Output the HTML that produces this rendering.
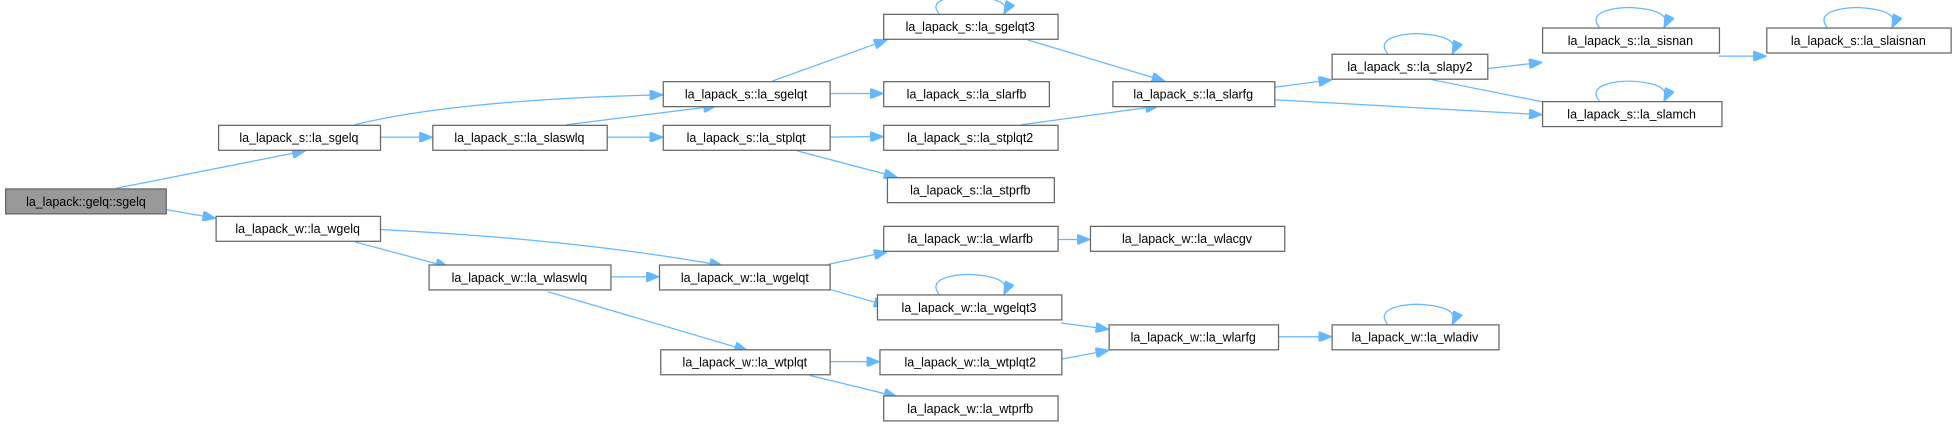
<!DOCTYPE html>
<html><head><meta charset="utf-8"><style>
html,body{margin:0;padding:0;background:#fff;}
svg{display:block;}
text{font-family:"Liberation Sans","DejaVu Sans",sans-serif;font-size:10px;fill:#000;}
.n{fill:#fff;stroke:#666;stroke-width:1;}
.r{fill:#999;stroke:#666;stroke-width:1;}
.e{fill:none;stroke:#63b8ff;stroke-width:1;}
</style></head><body>
<svg width="1953" height="429" viewBox="0 0 1568 344" preserveAspectRatio="none" xmlns="http://www.w3.org/2000/svg">
<defs><marker id="a" viewBox="0 0 10 8" refX="10" refY="4" markerWidth="11" markerHeight="8" markerUnits="userSpaceOnUse" orient="auto"><path d="M0,0 L10,4 L0,8 z" fill="#63b8ff" stroke="#63b8ff"/></marker></defs>
<g class="e" marker-end="url(#a)">
<path d="M93,151 L245,121"/>
<path d="M133,168 L173,175"/>
<path d="M305,110 L347,110"/>
<path d="M285,100 C350,84 450,78 532,76"/>
<path d="M455,100 L575,85"/>
<path d="M487,110 L532,110"/>
<path d="M620,65 L712,32"/>
<path d="M666,75 L709,75"/>
<path d="M825,32 L935,65"/>
<path d="M666,110 L709,109.5"/>
<path d="M640,121 L720,142"/>
<path d="M820,100 L930,85"/>
<path d="M1023,70 L1069,64"/>
<path d="M1023,80 L1238,92"/>
<path d="M1194,55 L1238,50"/>
<path d="M1150,64 L1275,89"/>
<path d="M1380,45 L1418,45"/>
<path d="M305,184 C380,188 480,195 580,213"/>
<path d="M285,194 L360,214"/>
<path d="M490,222 L529,222"/>
<path d="M440,234 L600,281"/>
<path d="M665,212 L712,202"/>
<path d="M849,192 L875,192"/>
<path d="M666,232 L712,245"/>
<path d="M852,259 L890,264"/>
<path d="M666,290 L706,290"/>
<path d="M650,301 L720,318"/>
<path d="M852,288 L890,281"/>
<path d="M1026,270 L1069,270"/>
<path d="M754,11 C743,-2 770,-3 779,-3 C795,-2 812,1 806,11"/>
<path d="M1114,43 C1103,29 1130,27 1139,27 C1155,28 1172,31 1166,43"/>
<path d="M1284,22 C1273,8 1300,6 1309,6 C1325,7 1342,10 1336,22"/>
<path d="M1467,22 C1456,8 1483,6 1492,6 C1508,7 1525,10 1519,22"/>
<path d="M1284,81 C1273,67 1300,65 1309,65 C1325,66 1342,69 1336,81"/>
<path d="M754,236 C743,222 770,220 779,220 C795,221 812,224 806,236"/>
<path d="M1114,260 C1103,246 1130,244 1139,244 C1155,245 1172,248 1166,260"/>
</g>
<g>
<rect class="r" x="4.5" y="151.5" width="129" height="20"/><text x="69" y="165" text-anchor="middle">la_lapack::gelq::sgelq</text>
<rect class="n" x="175.5" y="100.5" width="130" height="20"/><text x="240" y="114" text-anchor="middle">la_lapack_s::la_sgelq</text>
<rect class="n" x="173.5" y="173.5" width="132" height="20"/><text x="239" y="187" text-anchor="middle">la_lapack_w::la_wgelq</text>
<rect class="n" x="347.5" y="100.5" width="140" height="20"/><text x="417" y="114" text-anchor="middle">la_lapack_s::la_slaswlq</text>
<rect class="n" x="344.5" y="212.5" width="146" height="20"/><text x="417" y="226" text-anchor="middle">la_lapack_w::la_wlaswlq</text>
<rect class="n" x="532.5" y="65.5" width="134" height="20"/><text x="599" y="79" text-anchor="middle">la_lapack_s::la_sgelqt</text>
<rect class="n" x="532.5" y="100.5" width="134" height="20"/><text x="599" y="114" text-anchor="middle">la_lapack_s::la_stplqt</text>
<rect class="n" x="529.5" y="212.5" width="137" height="20"/><text x="598" y="226" text-anchor="middle">la_lapack_w::la_wgelqt</text>
<rect class="n" x="530.5" y="280.5" width="136" height="20"/><text x="598" y="294" text-anchor="middle">la_lapack_w::la_wtplqt</text>
<rect class="n" x="709.5" y="11.5" width="140" height="20"/><text x="779" y="25" text-anchor="middle">la_lapack_s::la_sgelqt3</text>
<rect class="n" x="709.5" y="65.5" width="133" height="20"/><text x="776" y="79" text-anchor="middle">la_lapack_s::la_slarfb</text>
<rect class="n" x="709.5" y="100.5" width="140" height="20"/><text x="779" y="114" text-anchor="middle">la_lapack_s::la_stplqt2</text>
<rect class="n" x="712.5" y="142.5" width="134" height="20"/><text x="779" y="156" text-anchor="middle">la_lapack_s::la_stprfb</text>
<rect class="n" x="709.5" y="181.5" width="140" height="20"/><text x="779" y="195" text-anchor="middle">la_lapack_w::la_wlarfb</text>
<rect class="n" x="704.5" y="236.5" width="148" height="20"/><text x="778" y="250" text-anchor="middle">la_lapack_w::la_wgelqt3</text>
<rect class="n" x="706.5" y="280.5" width="146" height="20"/><text x="779" y="294" text-anchor="middle">la_lapack_w::la_wtplqt2</text>
<rect class="n" x="709.5" y="317.5" width="140" height="20"/><text x="779" y="331" text-anchor="middle">la_lapack_w::la_wtprfb</text>
<rect class="n" x="893.5" y="65.5" width="130" height="20"/><text x="958" y="79" text-anchor="middle">la_lapack_s::la_slarfg</text>
<rect class="n" x="875.5" y="181.5" width="156" height="20"/><text x="953" y="195" text-anchor="middle">la_lapack_w::la_wlacgv</text>
<rect class="n" x="890.5" y="260.5" width="136" height="20"/><text x="958" y="274" text-anchor="middle">la_lapack_w::la_wlarfg</text>
<rect class="n" x="1069.5" y="43.5" width="125" height="20"/><text x="1132" y="57" text-anchor="middle">la_lapack_s::la_slapy2</text>
<rect class="n" x="1069.5" y="260.5" width="134" height="20"/><text x="1136" y="274" text-anchor="middle">la_lapack_w::la_wladiv</text>
<rect class="n" x="1238.5" y="22.5" width="142" height="20"/><text x="1309" y="36" text-anchor="middle">la_lapack_s::la_sisnan</text>
<rect class="n" x="1238.5" y="81.5" width="144" height="20"/><text x="1310" y="95" text-anchor="middle">la_lapack_s::la_slamch</text>
<rect class="n" x="1418.5" y="22.5" width="148" height="20"/><text x="1492" y="36" text-anchor="middle">la_lapack_s::la_slaisnan</text>
</g>
</svg>
</body></html>
